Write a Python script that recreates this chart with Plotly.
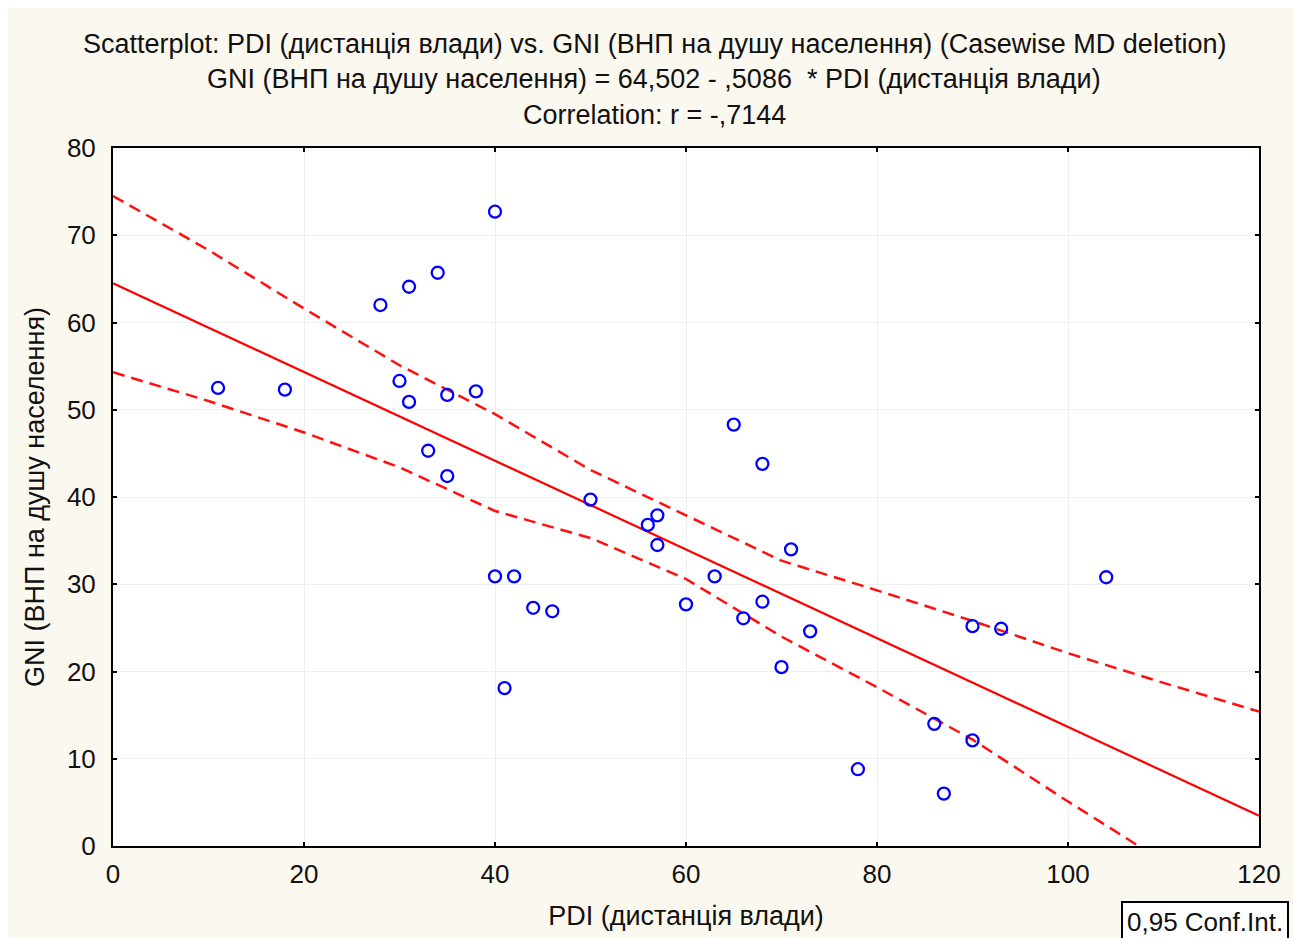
import plotly.graph_objects as go

# Data
pdi = [11, 18, 28, 31, 34, 40, 30, 31, 35, 38, 33, 35, 40, 42, 41, 44, 46, 50, 56, 57, 57,
       60, 63, 66, 65, 68, 68, 71, 70, 73, 78, 86, 87, 90, 90, 93, 104]
gni = [52.5, 52.3, 62.0, 64.1, 65.7, 72.7, 53.3, 50.9, 51.7, 52.1, 45.3, 42.4, 30.9, 30.9, 18.1,
       27.3, 26.9, 39.7, 36.8, 37.9, 34.5, 27.7, 30.9, 26.1, 48.3, 43.8, 28.0, 34.0, 20.5, 24.6,
       8.8, 14.0, 6.0, 12.1, 25.2, 24.9, 30.8]

fit_x = [0, 120]
fit_y = [64.502, 3.47]

band_x = [0, 10, 20, 30, 40, 50, 60, 70, 80, 90, 100, 110, 120]
upper_y = [74.5, 68.3, 61.6, 55.1, 49.5, 43.1, 37.9, 32.7, 29.3, 25.8, 22.1, 18.7, 15.4]
lower_y = [54.3, 51.0, 47.4, 43.4, 38.4, 35.3, 30.6, 24.0, 18.2, 12.2, 5.1, -1.8, -8.7]

title_lines = [
    "Scatterplot: PDI (дистанція влади) vs. GNI (ВНП на душу населення) (Casewise MD deletion)",
    "GNI (ВНП на душу населення) = 64,502 - ,5086  * PDI (дистанція влади)",
    "Correlation: r = -,7144",
]
x_title = "PDI (дистанція влади)"
y_title = "GNI (ВНП на душу населення)"
legend_text = "0,95 Conf.Int."

FONT = "Liberation Sans, Arial, sans-serif"
BG = "#FBF8EF"
TXT = "#111111"

fig = go.Figure()
fig.add_trace(go.Scatter(x=band_x, y=upper_y, mode="lines",
                         line=dict(color="#FF1010", width=2.5, dash="12px,7px"),
                         hoverinfo="skip", showlegend=False))
fig.add_trace(go.Scatter(x=band_x, y=lower_y, mode="lines",
                         line=dict(color="#FF1010", width=2.5, dash="12px,7px"),
                         hoverinfo="skip", showlegend=False))
fig.add_trace(go.Scatter(x=fit_x, y=fit_y, mode="lines",
                         line=dict(color="#FF0000", width=2.2), showlegend=False))
fig.add_trace(go.Scatter(x=pdi, y=gni, mode="markers",
                         marker=dict(symbol="circle-open", size=12,
                                     line=dict(color="#0000FF", width=2.3), color="#0000FF"),
                         showlegend=False))

# page is offset by the 8px body margin
W, H = 1293, 930
ml, mr, mt, mb = 105, 42, 140, 92
PL, PR, PT, PB = 113, 1259, 148, 846   # plot area in page pixels

def xp(px):
    return (px - PL) / (PR - PL)

def yp(py):
    return (PB - py) / (PB - PT)

annotations = []
for txt, ypx in zip(title_lines, [44, 79, 115]):
    annotations.append(dict(text=txt, xref="paper", yref="paper",
                            x=xp(654), y=yp(ypx),
                            xanchor="center", yanchor="middle", showarrow=False,
                            font=dict(family=FONT, size=27, color=TXT)))
annotations.append(dict(text=legend_text, xref="paper", yref="paper",
                        x=xp(1205), y=yp(922),
                        xanchor="center", yanchor="middle", showarrow=False,
                        font=dict(family=FONT, size=26, color=TXT),
                        bordercolor="#000000", borderwidth=2, borderpad=4,
                        bgcolor="#FFFFFF"))

fig.update_layout(
    width=W, height=H,
    margin=dict(l=ml, r=mr, t=mt, b=mb),
    paper_bgcolor=BG, plot_bgcolor="#FFFFFF",
    font=dict(family=FONT, size=26, color=TXT),
    annotations=annotations,
    xaxis=dict(range=[0, 120], tickvals=[0, 20, 40, 60, 80, 100, 120],
               showline=True, linecolor="#000000", linewidth=2, mirror="ticks",
               ticks="inside", ticklen=4, tickcolor="#000000", tickwidth=2,
               showgrid=True, gridcolor="#EFEFEF", gridwidth=1, zeroline=False,
               tickfont=dict(size=26), ticklabelstandoff=4,
               title=dict(text=x_title, font=dict(size=27), standoff=18)),
    yaxis=dict(range=[0, 80], tickvals=[0, 10, 20, 30, 40, 50, 60, 70, 80],
               showline=True, linecolor="#000000", linewidth=2, mirror="ticks",
               ticks="inside", ticklen=4, tickcolor="#000000", tickwidth=2,
               showgrid=True, gridcolor="#EFEFEF", gridwidth=1, zeroline=False,
               tickfont=dict(size=26), ticklabelstandoff=10,
               title=dict(text=y_title, font=dict(size=27), standoff=14)),
)

fig.write_html("out.html")
